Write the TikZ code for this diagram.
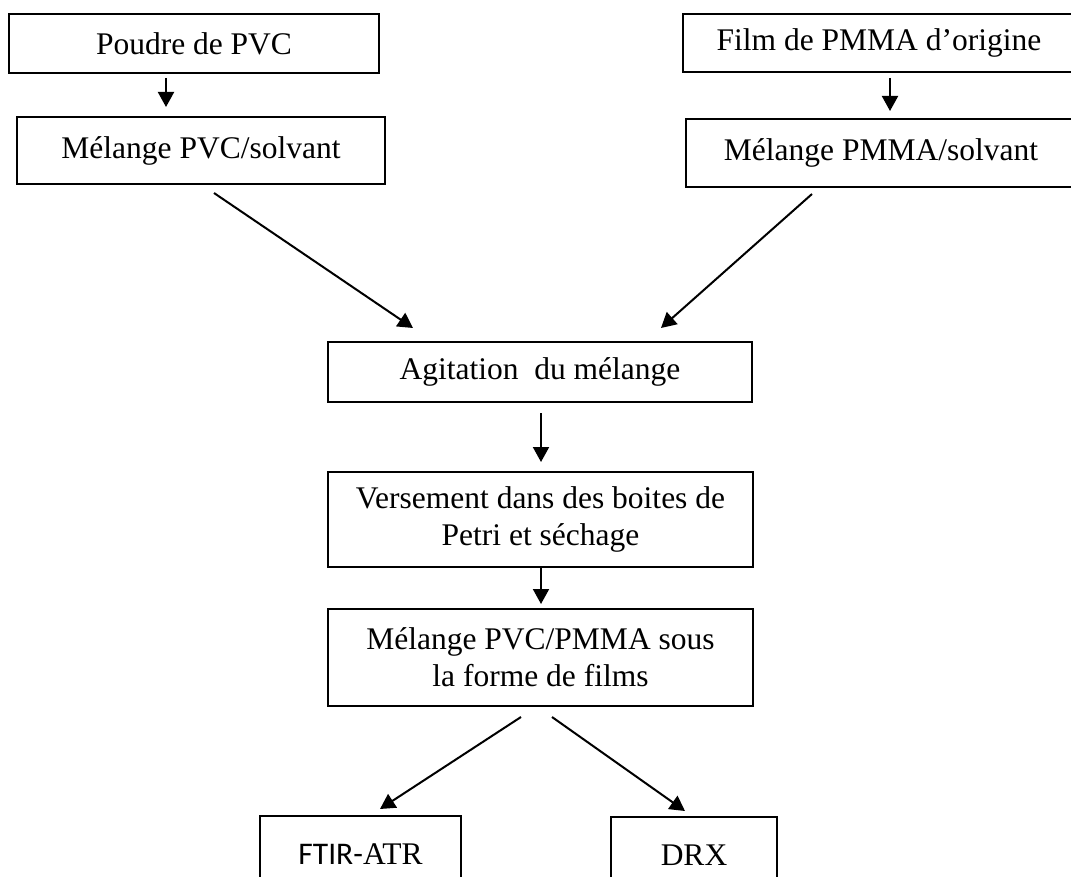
\documentclass[tikz,border=0pt]{standalone}
\usepackage{fontspec}
\setmainfont{Liberation Serif}
\newfontfamily\ftirfont{Carlito}
\usepackage{tikz}
\usetikzlibrary{arrows.meta,positioning,calc}

\begin{document}
\begin{tikzpicture}[x=1pt,y=-1pt,font=\fontsize{31.5}{37}\selectfont,
   stage/.style={draw,line width=2pt,inner sep=0pt,align=center},
   flow/.style={-{Triangle[length=15pt,width=16pt]},line width=2pt}]
  \useasboundingbox (0,0) rectangle (1071,877);
  % starting materials and their solutions
  \node[stage,minimum width=370pt,minimum height=59pt] (poudre) at (194,43.5) {Poudre de PVC};
  \node[stage,minimum width=392pt,minimum height=58pt] (film) at (879,43) {Film de PMMA d’origine};
  \node[stage,minimum width=368pt,minimum height=67pt] (mpvc) at (201,150.5) {Mélange PVC/solvant};
  \node[stage,minimum width=390pt,minimum height=68pt] (mpmma) at (881,153) {Mélange PMMA/solvant};
  % common route
  \node[stage,minimum width=424pt,minimum height=60pt] (agit) at (540,372) {Agitation\ \ du mélange};
  \node[stage,minimum width=425pt,minimum height=95pt] (vers) at (540.5,519.5) {Versement dans des boites de\\Petri et séchage};
  \node[stage,minimum width=425pt,minimum height=97pt] (films) at (540.5,657.5) {Mélange PVC/PMMA sous\\la forme de films};
  % characterisation
  \node[stage,minimum width=201pt,minimum height=76pt] (ftir) at (360.5,854) {{\ftirfont FTIR-}ATR};
  \node[stage,minimum width=166pt,minimum height=76pt] (drx) at (694,855) {DRX};
  \draw[flow] ([shift={(-28,4)}]poudre.south) -- ([shift={(-35,-9)}]mpvc.north);
  \draw[flow] ([shift={(11,5)}]film.south) -- ([shift={(9,-7)}]mpmma.north);
  \draw[flow] ([shift={(13,8)}]mpvc.south) -- ([shift={(-127,-13)}]agit.north);
  \draw[flow] ([shift={(-69,6)}]mpmma.south) -- ([shift={(121,-13)}]agit.north);
  \draw[flow] ([shift={(1,10)}]agit.south) -- ([shift={(0.5,-9)}]vers.north);
  \draw[flow] ([shift={(0.5,0)}]vers.south) -- ([shift={(0.5,-4)}]films.north);
  \draw[flow] ([shift={(-19.5,10)}]films.south) -- ([shift={(19.5,-6)}]ftir.north);
  \draw[flow] ([shift={(11.5,10)}]films.south) -- ([shift={(-9,-5)}]drx.north);
\end{tikzpicture}
\end{document}
